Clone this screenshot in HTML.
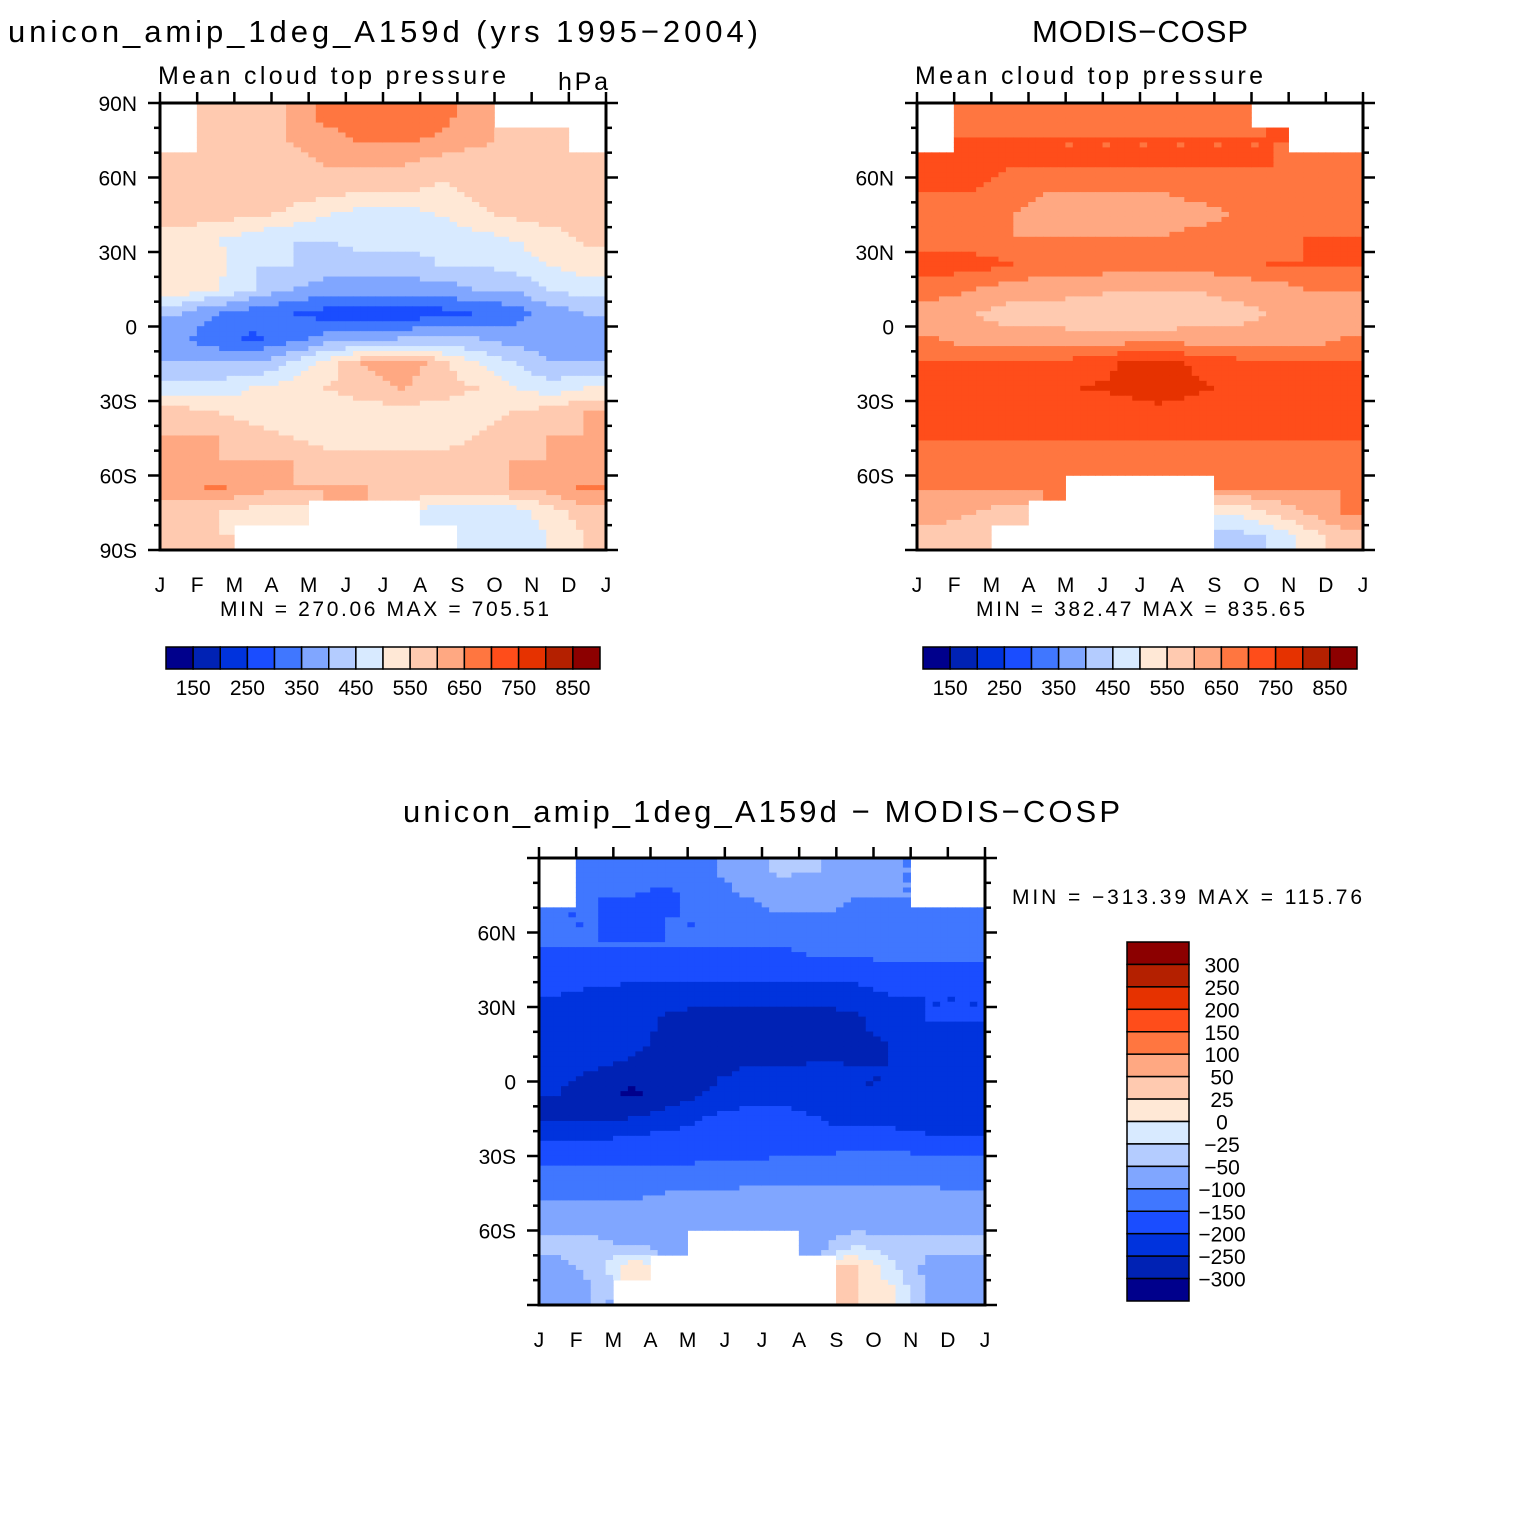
<!DOCTYPE html>
<html><head><meta charset="utf-8">
<style>
html,body{margin:0;padding:0;background:#fff;}
svg{display:block;font-family:"Liberation Sans",sans-serif;}
</style></head>
<body>
<svg id="chart" width="1524" height="1524" viewBox="0 0 1524 1524" xmlns="http://www.w3.org/2000/svg">
<rect width="1524" height="1524" fill="#fff"/>
<text x="8" y="42" font-size="31" textLength="750" lengthAdjust="spacing" fill="#000">unicon_amip_1deg_A159d (yrs 1995−2004)</text>
<text x="1032" y="42" font-size="31" textLength="216" lengthAdjust="spacing" fill="#000">MODIS−COSP</text>
<text x="158" y="84" font-size="25" textLength="348" lengthAdjust="spacing" fill="#000">Mean cloud top pressure</text>
<text x="558" y="90" font-size="25" textLength="50" lengthAdjust="spacing" fill="#000">hPa</text>
<text x="915" y="84" font-size="25" textLength="348" lengthAdjust="spacing" fill="#000">Mean cloud top pressure</text>
<text x="220" y="616" font-size="21" textLength="329" lengthAdjust="spacing" fill="#000">MIN = 270.06 MAX = 705.51</text>
<text x="976" y="616" font-size="21" textLength="329" lengthAdjust="spacing" fill="#000">MIN = 382.47 MAX = 835.65</text>
<text x="403" y="822" font-size="31" textLength="717" lengthAdjust="spacing" fill="#000">unicon_amip_1deg_A159d − MODIS−COSP</text>
<text x="1012" y="904" font-size="21" textLength="350" lengthAdjust="spacing" fill="#000">MIN = −313.39 MAX = 115.76</text>
<g id="layer"></g>
</svg>
<script>
const months = ["J","F","M","A","M","J","J","A","S","O","N","D","J"];
const latLabelsFull = ["90N","60N","30N","0","30S","60S","90S"];
const latLabelsDiff = ["","60N","30N","0","30S","60S",""];
const colors = ["#00008c","#0022b4","#0033dd","#1a4dff","#4077ff","#80a6ff","#b4ccff","#d8eaff","#ffe8d6","#ffcab0","#ffa882","#ff7640","#ff4d1a","#e63200","#b42000","#8c0000"];
const levelsAbs = [150,200,250,300,350,400,450,500,550,600,650,700,750,800,850];
const levelsDiff = [-300,-250,-200,-150,-100,-50,-25,0,25,50,100,150,200,250,300];
const absTickLabels = ["150","250","350","450","550","650","750","850"];
const diffTickLabels = ["300","250","200","150","100","50","25","0","−25","−50","−100","−150","−200","−250","−300"];
// rows: 10-degree bands from 90N to 90S; columns: Jan..Dec
const modelValues = [
[null,575,575,600,675,675,675,675,620,null,null,null],
[null,575,575,600,625,660,660,640,620,575,575,null],
[575,560,560,575,600,600,600,575,560,575,575,575],
[575,575,575,575,575,560,560,540,560,575,575,575],
[575,575,560,540,500,475,475,500,540,560,575,575],
[525,500,475,450,450,475,475,460,475,500,525,560],
[540,525,450,450,425,425,425,450,450,475,500,525],
[540,500,450,400,375,375,375,375,400,400,450,475],
[400,350,325,300,280,270,270,280,300,325,375,400],
[360,320,290,330,370,380,400,410,400,380,375,350],
[400,400,400,450,525,600,640,575,500,450,400,400],
[475,475,500,525,550,575,600,575,550,500,475,500],
[575,550,525,525,525,525,525,525,525,550,575,600],
[600,600,575,550,525,525,525,525,550,575,600,600],
[600,600,600,600,575,575,575,575,575,600,600,600],
[625,660,625,600,600,600,575,575,575,600,625,660],
[575,550,525,525,null,null,null,475,475,475,525,575],
[575,550,null,null,null,null,null,null,475,475,500,550]];
const obsValues = [
[null,650,675,675,675,675,675,675,675,null,null,null],
[null,700,700,700,700,700,700,700,700,700,null,null],
[700,725,700,700,700,700,700,700,700,700,675,675],
[700,700,675,650,650,650,650,675,675,675,675,675],
[675,650,650,625,625,625,625,625,650,650,650,650],
[675,675,650,650,650,650,650,675,675,675,700,700],
[725,725,700,675,675,675,675,675,675,700,700,700],
[675,650,625,625,625,600,600,600,625,625,650,650],
[625,600,575,575,550,550,550,575,575,600,600,625],
[650,625,625,625,625,625,625,625,625,625,625,650],
[700,700,700,700,725,750,770,740,720,700,700,700],
[725,725,725,725,750,760,790,760,740,725,725,725],
[725,725,725,725,725,725,725,725,725,725,725,725],
[700,700,700,700,700,700,700,700,700,700,700,700],
[675,675,675,675,675,675,675,675,675,675,675,675],
[650,650,650,650,null,null,null,null,650,650,650,650],
[625,600,575,null,null,null,null,null,500,550,600,650],
[575,550,null,null,null,null,null,null,425,450,525,575]];
const diffValues = [
[null,-140,-140,-120,-110,-75,-40,-50,-80,-100,null,null],
[null,-150,-150,-160,-120,-100,-75,-75,-100,-100,null,null],
[-150,-150,-160,-150,-150,-125,-110,-110,-110,-110,-110,-110],
[-150,-150,-150,-150,-150,-150,-150,-125,-125,-125,-125,-125],
[-175,-175,-175,-175,-175,-175,-175,-175,-175,-160,-160,-160],
[-200,-210,-220,-225,-225,-225,-225,-225,-220,-200,-200,-200],
[-210,-210,-230,-260,-275,-275,-275,-275,-260,-225,-200,-200],
[-225,-225,-240,-260,-275,-275,-275,-275,-260,-250,-225,-210],
[-230,-250,-260,-260,-260,-250,-250,-240,-250,-250,-230,-225],
[-250,-275,-310,-280,-250,-225,-225,-225,-250,-250,-250,-225],
[-260,-260,-250,-225,-200,-175,-175,-200,-225,-225,-240,-240],
[-200,-200,-175,-175,-175,-175,-175,-175,-160,-160,-175,-175],
[-150,-150,-150,-150,-140,-140,-130,-125,-125,-125,-125,-125],
[-110,-110,-110,-100,-100,-90,-90,-90,-90,-90,-90,-100],
[-75,-75,-75,-75,-75,-75,-75,-75,-75,-75,-75,-75],
[-40,-40,-60,-60,null,null,null,-60,-30,-40,-40,-40],
[-60,-40,20,null,null,null,null,null,30,-20,-60,-60],
[-75,-50,null,null,null,null,null,null,25,10,-60,-90]];

const NS="http://www.w3.org/2000/svg";
const layer=document.getElementById('layer');
function mk(tag,attrs,parent){const e=document.createElementNS(NS,tag);for(const k in attrs)e.setAttribute(k,attrs[k]);(parent||layer).appendChild(e);return e;}
function colorFor(v,levels){let i=0;while(i<levels.length&&v>=levels[i])i++;return colors[i];}

function panel(name,x0,y0,data,levels,latLabels){
  const W=446,H=447,nr=data.length,nc=data[0].length;
  const g=mk('g',{});
  
  
  const xs=m=>x0+m/nc*W;
  const ys=lat=>y0+(90-lat)/180*H;
  const sub=5;
  const val=(r,c)=>{r=Math.max(0,Math.min(nr-1,r));c=Math.max(0,Math.min(nc-1,c));return data[r][c];};
  for(let r=0;r<nr;r++)for(let c=0;c<nc;c++){
    if(data[r][c]===null)continue;
    for(let i=0;i<sub;i++)for(let j=0;j<sub;j++){
      const fr=r+(i+0.5)/sub-0.5, fc=c+(j+0.5)/sub-0.5;
      const r0=Math.floor(fr),c0=Math.floor(fc),tr=fr-r0,tc=fc-c0;
      const pts=[[r0,c0,(1-tr)*(1-tc)],[r0+1,c0,tr*(1-tc)],[r0,c0+1,(1-tr)*tc],[r0+1,c0+1,tr*tc]];
      let s=0,w=0;for(const p of pts){const v=val(p[0],p[1]);if(v!==null){s+=v*p[2];w+=p[2];}}
      const v=w>0?s/w:data[r][c];
      const cell=mk('rect',{x:xs(c+j/sub)-0.3,y:ys(90-(r+i/sub)*10)-0.3,width:W/nc/sub+0.6,height:H/nr/sub+0.6,fill:colorFor(v,levels)},g);
      
      
    }
  }
  const frame=mk('rect',{x:x0,y:y0,width:W,height:H,fill:'none',stroke:'#000','stroke-width':3},g);
  
  
  for(let m=0;m<=12;m++){
    const x=xs(m);
    mk('line',{x1:x,y1:y0,x2:x,y2:y0-11,stroke:'#000','stroke-width':2.5},g);
    const t=mk('text',{x:x,y:y0+H+42,'font-size':21,'text-anchor':'middle'},g);
    t.textContent=months[m];
    
    
  }
  for(let lat=90;lat>=-90;lat-=10){
    const y=ys(lat),major=lat%30===0;
    const L=major?12:6;
    mk('line',{x1:x0-L,y1:y,x2:x0,y2:y,stroke:'#000','stroke-width':2.5},g);
    mk('line',{x1:x0+W,y1:y,x2:x0+W+L,y2:y,stroke:'#000','stroke-width':2.5},g);
    if(major){
      const lab=latLabels[(90-lat)/30];
      if(lab){const t=mk('text',{x:x0-23,y:y+8,'font-size':21,'text-anchor':'end'},g);t.textContent=lab;
        
        }
    }
  }
}
function hbar(name,x0,y0){
  const W=434,H=22,n=colors.length,bw=W/n;
  const g=mk('g',{});
  
  
  colors.forEach((c,i)=>{const b=mk('rect',{x:x0+i*bw,y:y0,width:bw,height:H,fill:c,stroke:'#000','stroke-width':1.5},g);
    
    });
  absTickLabels.forEach((l,k)=>{const t=mk('text',{x:x0+(2*k+1)*bw,y:y0+48,'font-size':21,'text-anchor':'middle'},g);t.textContent=l;
    
    });
}
function vbar(name,x0,y0){
  const W=62,H=359,n=colors.length,bh=H/n;
  const g=mk('g',{});
  
  
  colors.slice().reverse().forEach((c,i)=>{const b=mk('rect',{x:x0,y:y0+i*bh,width:W,height:bh,fill:c,stroke:'#000','stroke-width':1.5},g);
    
    });
  diffTickLabels.forEach((l,k)=>{const t=mk('text',{x:x0+95,y:y0+(k+1)*bh+8,'font-size':21,'text-anchor':'middle'},g);t.textContent=l;
    
    });
}
panel('model-panel',160,103,modelValues,levelsAbs,latLabelsFull);
panel('obs-panel',917,103,obsValues,levelsAbs,["","60N","30N","0","30S","60S",""]);
panel('diff-panel',539,858,diffValues,levelsDiff,latLabelsDiff);
hbar('model-colorbar',166,647);
hbar('obs-colorbar',923,647);
vbar('diff-colorbar',1127,942);
</script>
</body></html>
